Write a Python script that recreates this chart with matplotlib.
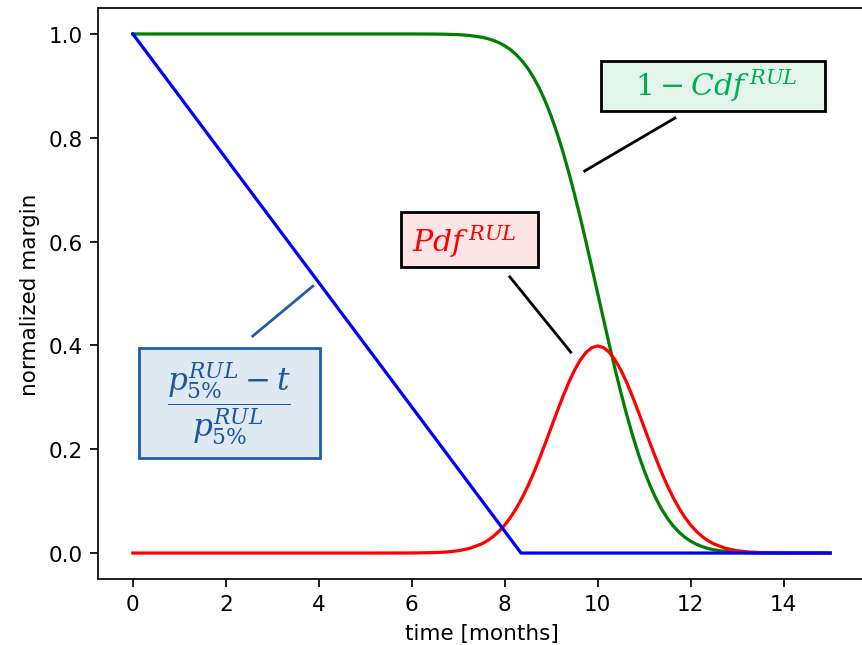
import matplotlib.pyplot as plt
from matplotlib.patches import Rectangle

plt.rcParams["mathtext.fontset"] = "dejavuserif"

# time grid for the two bell-shaped curves [months]
t = [0, 1, 2, 3, 4, 5, 6, 6.5, 6.75, 7, 7.25,
     7.5, 7.625, 7.75, 7.875, 8, 8.125, 8.25, 8.375, 8.5, 8.625, 8.75, 8.875,
     9, 9.125, 9.25, 9.375, 9.5, 9.625, 9.75, 9.875, 10, 10.125, 10.25, 10.375,
     10.5, 10.625, 10.75, 10.875, 11, 11.125, 11.25, 11.375, 11.5, 11.625,
     11.75, 11.875, 12, 12.125, 12.25, 12.375, 12.5,
     12.75, 13, 13.25, 13.5, 14, 15]
# 1 - Cdf
survival = [1.0, 1.0, 1.0, 1.0, 1.0, 1.0, 1.0, 0.9998, 0.9994, 0.9987, 0.9970,
            0.9938, 0.9912, 0.9878, 0.9832, 0.9772, 0.9696, 0.9599, 0.9479,
            0.9332, 0.9154, 0.8944, 0.8697, 0.8413, 0.8092, 0.7734, 0.7340,
            0.6915, 0.6462, 0.5987, 0.5497, 0.5000, 0.4503, 0.4013, 0.3538,
            0.3085, 0.2660, 0.2266, 0.1908, 0.1587, 0.1303, 0.1056, 0.0846,
            0.0668, 0.0521, 0.0401, 0.0304, 0.0228, 0.0168, 0.0122, 0.0088,
            0.0062,
            0.0030, 0.0013, 0.0006, 0.0002, 0.0, 0.0]
# Pdf
pdf = [0.0, 0.0, 0.0, 0.0, 0.0, 0.0, 0.0001, 0.0009, 0.0020, 0.0044, 0.0091,
       0.0175, 0.0237, 0.0317, 0.0417, 0.0540, 0.0688, 0.0863, 0.1065, 0.1295,
       0.1550, 0.1826, 0.2119, 0.2420, 0.2721, 0.3011, 0.3282, 0.3521, 0.3718,
       0.3867, 0.3958, 0.3989, 0.3958, 0.3867, 0.3718, 0.3521, 0.3282, 0.3011,
       0.2721, 0.2420, 0.2119, 0.1826, 0.1550, 0.1295, 0.1065, 0.0863, 0.0688,
       0.0540, 0.0417, 0.0317, 0.0237, 0.0175,
       0.0091, 0.0044, 0.0020, 0.0009, 0.0001, 0.0]
# linear margin (p5% - t) / p5%
t_lin = [0, 8.35, 15]
margin = [1.0, 0.0, 0.0]

DPI = 154.6
fig = plt.figure(figsize=(862 / DPI, 646 / DPI), dpi=DPI)
# right spine falls just outside the picture, as in the cropped original
ax = fig.add_axes([98 / 862, 66 / 646, 767 / 862, 571 / 646])

ax.plot(t, survival, color="green", lw=1.5)
ax.plot(t, pdf, color="red", lw=1.5)
ax.plot(t_lin, margin, color="blue", lw=1.5)

ax.set_xlim(-0.75, 15.75)
ax.set_ylim(-0.05, 1.05)
ax.set_xticks([0, 2, 4, 6, 8, 10, 12, 14])
ax.set_xlabel("time [months]")
ax.set_ylabel("normalized margin")

# --- annotation boxes ---
boxes = [
    # (x0, y0, w, h, face, edge, text, tx, ty, color, size, line)
    (10.06, 0.852, 4.82, 0.096, "#e3f5ea", "black",
     r"$1 - Cdf^{\,RUL}$", 12.55, 0.902, "#00b050", 14,
     ((9.72, 0.736), (11.66, 0.838), "black")),
    (5.76, 0.551, 2.95, 0.106, "#fde5e5", "black",
     r"$Pdf^{\,RUL}$", 7.14, 0.602, "red", 14,
     ((8.11, 0.532), (9.42, 0.387), "black")),
    (0.13, 0.183, 3.89, 0.212, "#dfe9f2", "#2060a8",
     r"$\dfrac{p^{RUL}_{5\%} - t}{p^{RUL}_{5\%}}$", 2.07, 0.289, "#1f56a0", 14.5,
     ((2.58, 0.418), (3.87, 0.514), "#2060a8")),
]
for x0, y0, w, h, face, edge, txt, tx, ty, col, size, line in boxes:
    ax.add_patch(Rectangle((x0, y0), w, h, facecolor=face, edgecolor=edge,
                           lw=1.3, zorder=4))
    ax.text(tx, ty, txt, color=col, fontsize=size, ha="center", va="center",
            zorder=5)
    (lx0, ly0), (lx1, ly1), lcol = line
    ax.plot([lx0, lx1], [ly0, ly1], color=lcol, lw=1.3, zorder=4)

fig.savefig("out.png", dpi=DPI)
